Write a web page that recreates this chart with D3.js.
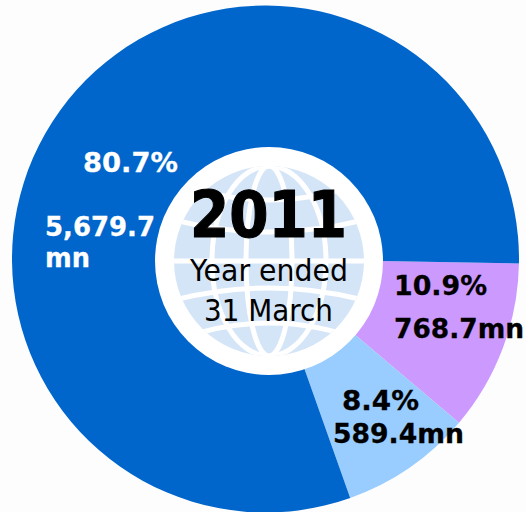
<!DOCTYPE html>
<html>
<head>
<meta charset="utf-8">
<script src="https://cdn.jsdelivr.net/npm/d3@7/dist/d3.min.js"></script>
<style>
html,body{margin:0;padding:0;background:#fdfdfd;overflow:hidden}
svg{display:block}
text{font-family:"DejaVu Sans",sans-serif}
</style>
</head>
<body>
<svg id="chart" width="526" height="512"></svg>
<script>
const segments = ["Purple", "Light blue", "Dark blue"];
const shares = [10.9, 8.4, 80.7];
const amounts = ["768.7mn", "589.4mn", "5,679.7\nmn"];
const colours = ["#cc99ff", "#99ccff", "#0066cc"];
const year = "2011";
const subtitle = ["Year ended", "31 March"];

const svg = d3.select("#chart");
const cx = 265.5, cy = 259, outer = 253.5;
const hubX = 269, hubY = 261, hubR = 114, globeR = 95;

const pie = d3.pie().sort(null).value(d => d)
  .startAngle(91 * Math.PI / 180)
  .endAngle((91 + 360) * Math.PI / 180);
const arc = d3.arc().innerRadius(0).outerRadius(outer);

svg.append("g").attr("transform", `translate(${cx},${cy})`)
  .selectAll("path").data(pie(shares)).join("path")
  .attr("d", arc).attr("fill", (d, i) => colours[i]);

// Hub with a stylised globe behind the year
const hub = svg.append("g").attr("transform", `translate(${hubX},${hubY})`);
hub.append("circle").attr("r", hubR).attr("fill", "#fff");
svg.append("defs").append("clipPath").attr("id", "globeClip")
  .append("circle").attr("r", globeR);
const globe = hub.append("g").attr("clip-path", "url(#globeClip)");
globe.append("rect").attr("x", -globeR).attr("y", -globeR)
  .attr("width", 2 * globeR).attr("height", 2 * globeR).attr("fill", "#d5e5f8");

const meridianWidths = [23, 57];
// centre height and rim height of each parallel
const parallels = [[0, 0], [-29, -41], [-61, -79], [27, 39], [62, 80]];
const gridStyle = g => g.attr("fill", "none").attr("stroke", "#fff").attr("stroke-width", 5);
globe.append("g").call(gridStyle).selectAll("ellipse").data(meridianWidths).join("ellipse")
  .attr("rx", d => d).attr("ry", globeR);
globe.append("g").call(gridStyle).selectAll("path").data(parallels).join("path")
  .attr("d", d => `M${-globeR},${d[1]}Q0,${2 * d[0] - d[1]} ${globeR},${d[1]}`);

// Centre caption
const label = (txt, x, y, size, weight, fill, len, stroke = 0) => svg.append("text")
  .attr("x", x).attr("y", y).attr("font-size", size).attr("font-weight", weight)
  .attr("fill", fill).attr("stroke", stroke ? fill : "none").attr("stroke-width", stroke)
  .attr("textLength", len).attr("lengthAdjust", "spacingAndGlyphs").text(txt);

label(year, 190, 237, 64, "bold", "#000", 157, 1.2);
label(subtitle[0], 190, 281, 30, "normal", "#000", 158);
label(subtitle[1], 204, 321, 30, "normal", "#000", 129);

// Slice labels
const pct = v => v.toFixed(1) + "%";
label(pct(shares[2]), 83, 172, 26, "bold", "#fff", 95, 0.3);
const [big, unit] = amounts[2].split("\n");
label(big, 45, 236, 26, "bold", "#fff", 110, 0.3);
label(unit, 45, 267, 26, "bold", "#fff", 45, 0.3);
label(pct(shares[0]), 394, 295, 26, "bold", "#000", 93, 0.3);
label(amounts[0], 394, 338, 26, "bold", "#000", 130, 0.3);
label(pct(shares[1]), 342, 410, 26, "bold", "#000", 77, 0.3);
label(amounts[1], 333, 443, 26, "bold", "#000", 131, 0.3);
</script>
</body>
</html>
